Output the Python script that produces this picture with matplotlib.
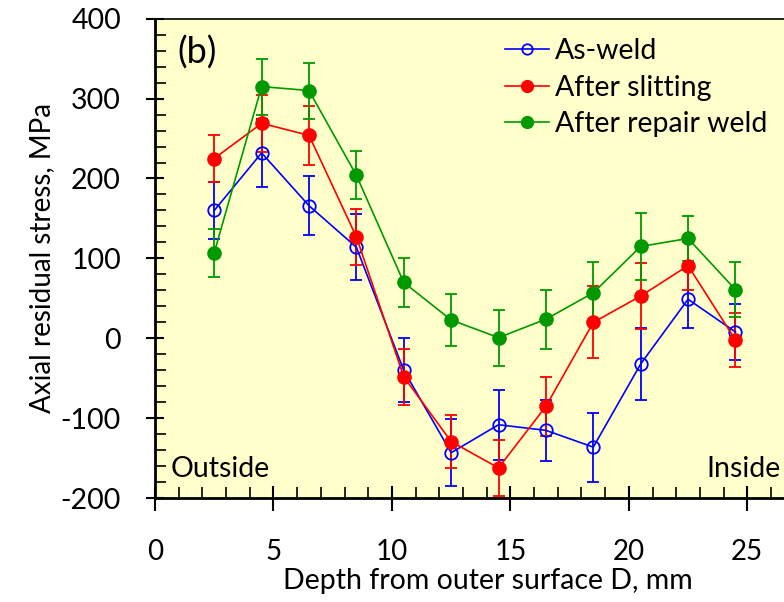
import matplotlib
matplotlib.use("Agg")
import matplotlib.pyplot as plt
from matplotlib.ticker import MultipleLocator
from matplotlib.lines import Line2D

plt.rcParams['font.family'] = ['Lato', 'DejaVu Sans']
plt.rcParams['axes.unicode_minus'] = False

depth = [2.5, 4.5, 6.5, 8.5, 10.5, 12.5, 14.5, 16.5, 18.5, 20.5, 22.5, 24.5]

as_weld = [160, 232, 166, 114, -40, -143, -108, -115, -136, -32, 49, 8]
as_weld_err = [36, 43, 37, 41, 40, 42, 44, 38, 43, 45, 36, 35]

after_slitting = [225, 269, 254, 127, -48, -129, -162, -85, 20, 53, 91, -2]
slitting_err = [30, 36, 37, 35, 35, 33, 35, 37, 45, 41, 30, 34]

after_repair = [107, 315, 310, 204, 70, 23, 1, 24, 57, 115, 125, 61]
repair_err = [30, 35, 35, 30, 31, 32, 35, 37, 38, 42, 28, 34]

labels = ["As-weld", "After slitting", "After repair weld"]
colors = ['#0000FF', '#FF0000', '#009900']

fig = plt.figure(figsize=(7.84, 6.02), dpi=100)
ax = fig.add_axes([155/784, 1 - 498.3/602, 1 - 155/784, (498.3 - 18.6)/602])
ax.set_facecolor('#FFFFCC')

common = dict(capsize=4.5, elinewidth=1.3, capthick=1.3, linewidth=1.2)
ax.errorbar(depth, as_weld, yerr=as_weld_err, color=colors[0], marker='o',
            markersize=9, markerfacecolor='none', markeredgewidth=1.3, **common)
ax.errorbar(depth, after_slitting, yerr=slitting_err, color=colors[1], marker='o',
            markersize=9.5, **common)
ax.errorbar(depth, after_repair, yerr=repair_err, color=colors[2], marker='o',
            markersize=9.5, **common)

handles = [
    Line2D([], [], color=colors[0], marker='o', markersize=7.5, markerfacecolor='none',
           markeredgewidth=1.3, linewidth=1.2),
    Line2D([], [], color=colors[1], marker='o', markersize=8.5, linewidth=1.2),
    Line2D([], [], color=colors[2], marker='o', markersize=8.5, linewidth=1.2),
]

ax.set_xlim(0, 26.55)
ax.set_ylim(-200, 400)
ax.xaxis.set_major_locator(MultipleLocator(5))
ax.xaxis.set_minor_locator(MultipleLocator(1))
ax.yaxis.set_major_locator(MultipleLocator(100))
ax.yaxis.set_minor_locator(MultipleLocator(20))

ax.tick_params(axis='x', which='major', direction='inout', length=18, width=1.5,
               labelsize=20, pad=20)
ax.tick_params(axis='x', which='minor', direction='in', length=8, width=1.2)
ax.tick_params(axis='y', which='major', direction='inout', length=13, width=1.5,
               labelsize=20.5, pad=18)
ax.tick_params(axis='y', which='minor', direction='in', length=8, width=1.2)

for s in ['left', 'bottom']:
    ax.spines[s].set_linewidth(2)
ax.spines['top'].set_linewidth(1.2)
ax.spines['right'].set_visible(False)

ax.set_xlabel("Depth from outer surface D, mm", fontsize=20.5, labelpad=5)
ax.xaxis.set_label_coords(0.529, -0.145)
ax.xaxis.label.set_va('top')
ax.set_ylabel("Axial residual stress, MPa", fontsize=20, labelpad=4)

ax.text(0.035, 0.93, "(b)", transform=ax.transAxes, fontsize=26,
        ha='left', va='center')
ax.text(0.025, 0.035, "Outside", transform=ax.transAxes, fontsize=20.5,
        ha='left', va='bottom')
ax.text(0.995, 0.035, "Inside", transform=ax.transAxes, fontsize=20.5,
        ha='right', va='bottom')

ax.legend(handles, labels, loc='upper left', bbox_to_anchor=(0.556, 0.960),
          frameon=False, fontsize=20.5, handlelength=1.55, handletextpad=0.2,
          labelspacing=0.38, borderaxespad=0, borderpad=0)
fig.savefig("out.png", dpi=100)
